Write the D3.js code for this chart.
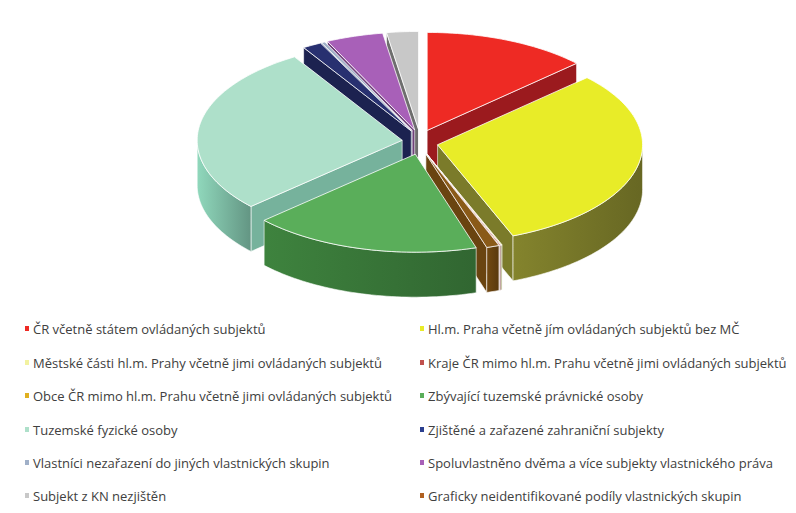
<!DOCTYPE html><html><head><meta charset="utf-8"><script src="https://cdn.jsdelivr.net/npm/d3@7"></script>
<style>body{margin:0;background:#fff}</style></head><body><svg id="c" width="796" height="513"></svg>
<script>
const categories=["ČR včetně státem ovládaných subjektů","Hl.m. Praha včetně jím ovládaných subjektů bez MČ","Městské části hl.m. Prahy včetně jimi ovládaných subjektů","Kraje ČR mimo hl.m. Prahu včetně jimi ovládaných subjektů","Obce ČR mimo hl.m. Prahu včetně jimi ovládaných subjektů","Zbývající tuzemské právnické osoby","Tuzemské fyzické osoby","Zjištěné a zařazené zahraniční subjekty","Vlastníci nezařazení do jiných vlastnických skupin","Spoluvlastněno dvěma a více subjekty vlastnického práva","Subjekt z KN nezjištěn","Graficky neidentifikované podíly vlastnických skupin"];
const values=[13,31,0.1,0.1,1,18,28,1.5,0.3,4.5,2.5,0];
const topColors=["#ee2a24","#e8ec28","#f2f2a0","#c0504d","#8a5a18","#5aae5a","#aee0ca","#283070","#a0b0c8","#a860b8","#c8c8c8","#b06020"];
const sideColors=["#9b1a1e","#7b7b2a","#a0a060","#803030","#6a4410","#3a7a3a","#76b29c","#1c2250","#708098","#70407a","#6e6e6e","#7a4010"];
const legendColors=["#ee2a24","#e8ec28","#f2f2a0","#c0504d","#e0b020","#5aae5a","#aee0ca","#2b3f8f","#a0b0c8","#a860b8","#c8c8c8","#b06020"];
const svg=d3.select("#c");
const cx=420,cy=142,rx=205,ry=98,h=45,ex=18;
const pie=d3.pie().sort(null).value(d=>d)(values);
const P=(a,r,ox,oy,dz)=>[ox+rx*r*Math.sin(a),oy-ry*r*Math.cos(a)+(dz||0)];
const line=d3.line();
const slices=pie.map((p,i)=>{const m=(p.startAngle+p.endAngle)/2;return {i,a0:p.startAngle,a1:p.endAngle,ox:cx+ex*Math.sin(m),oy:cy-ex*0.7*Math.cos(m),m};}).filter(s=>s.a1-s.a0>1e-4);
slices.sort((a,b)=>(-Math.cos(a.m))-(-Math.cos(b.m)));
const g=svg.append("g");
function arcPts(s,a0,a1,dz){const n=Math.max(2,Math.ceil((a1-a0)*40));return d3.range(n+1).map(k=>P(a0+(a1-a0)*k/n,1,s.ox,s.oy,dz));}
slices.forEach(s=>{
  const c=[s.ox,s.oy];
  const walls=[];
  if(Math.sin(s.a0)<0)walls.push(s.a0);
  if(Math.sin(s.a1)>0)walls.push(s.a1);
  walls.forEach(a=>{
    const e=P(a,1,s.ox,s.oy);
    g.append("path").attr("d",line([c,e,[e[0],e[1]+h],[c[0],c[1]+h]])+"Z").attr("fill",sideColors[s.i]).attr("stroke","#fff").attr("stroke-width",0.6);
  });
  const b0=Math.max(s.a0,Math.PI/2),b1=Math.min(s.a1,3*Math.PI/2);
  if(b1>b0){
    const top=arcPts(s,b0,b1,0),bot=arcPts(s,b0,b1,h).reverse();
    const gid="gr"+s.i;
    const gr=svg.append("defs").append("linearGradient").attr("id",gid).attr("x1","0").attr("x2","1");
    const base=d3.color(sideColors[s.i]);
    gr.append("stop").attr("offset","0").attr("stop-color",s.i==6?"#90d8bc":base.brighter(0.2));
    gr.append("stop").attr("offset","1").attr("stop-color",base.darker(0.5));
    g.append("path").attr("d",line(top.concat(bot))+"Z").attr("fill",`url(#${gid})`).attr("stroke","#fff").attr("stroke-width",0.6);
  }
  g.append("path").attr("d",line([c].concat(arcPts(s,s.a0,s.a1,0)))+"Z").attr("fill",topColors[s.i]).attr("stroke","#fff").attr("stroke-width",0.8);
});
const rows=[330,364,397,431,464,497];
categories.forEach((t,i)=>{
  const x=i%2?420:25,y=rows[Math.floor(i/2)];
  svg.append("rect").attr("x",x).attr("y",y-4).attr("width",4).attr("height",5).attr("fill",legendColors[i]);
  svg.append("text").attr("x",x+8).attr("y",y+4).attr("font-family","Open Sans").attr("font-size",13).attr("fill","#404040").text(t);
});
</script></body></html>
